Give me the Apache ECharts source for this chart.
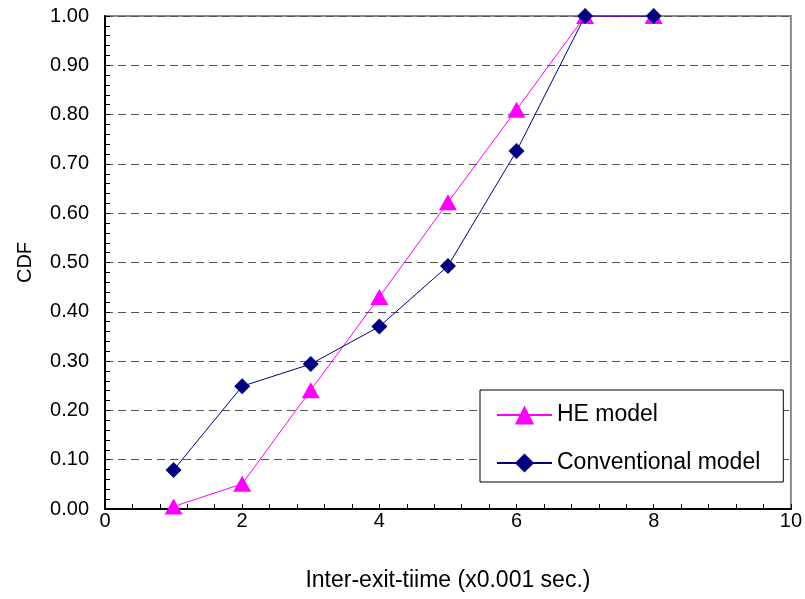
<!DOCTYPE html>
<html>
<head>
<meta charset="utf-8">
<script src="https://cdn.jsdelivr.net/npm/echarts@6/dist/echarts.min.js"></script>
<style>
html,body{margin:0;padding:0;background:#fff;}
#chart{width:805px;height:599px;}
</style>
</head>
<body>
<div id="chart"></div>
<script>
// Inter-exit time (x0.001 sec.) and cumulative distribution per model
const xValues = [1, 2, 3, 4, 5, 6, 7, 8];
const heModel = [0.005, 0.051, 0.241, 0.430, 0.622, 0.810, 1.000, 1.000];
const conventionalModel = [0.079, 0.249, 0.294, 0.370, 0.493, 0.726, 1.000, 1.000];
const seriesNames = ['HE model', 'Conventional model'];

const pair = (ys) => xValues.map((x, i) => [x, ys[i]]);
const font = 'Arial, "Liberation Sans", sans-serif';

const chart = echarts.init(document.getElementById('chart'), null, { renderer: 'canvas' });
chart.setOption({
  animation: false,
  backgroundColor: '#fff',
  grid: {
    left: 105, top: 16, right: 10, bottom: 90,
    show: true, borderColor: '#888', borderWidth: 2, backgroundColor: 'transparent'
  },
  legend: {
    data: seriesNames,
    orient: 'vertical',
    left: 480, top: 390,
    padding: [13, 23, 7, 16],
    itemGap: 24,
    itemWidth: 55, itemHeight: 24,
    backgroundColor: '#fff',
    borderColor: '#000', borderWidth: 1,
    textStyle: { fontFamily: font, fontSize: 23, lineHeight: 24, color: '#000' }
  },
  xAxis: {
    type: 'value', min: 0, max: 10, interval: 2,
    name: 'Inter-exit-tiime (x0.001 sec.)',
    nameLocation: 'middle', nameGap: 60,
    nameTextStyle: { fontFamily: font, fontSize: 23, color: '#000' },
    axisLine: { show: true, lineStyle: { color: '#000', width: 2 } },
    axisTick: { show: true, inside: true, length: 5, lineStyle: { color: '#000', width: 1 } },
    minorTick: { show: true, splitNumber: 5, length: 5, lineStyle: { color: '#000', width: 1 } },
    axisLabel: { fontFamily: font, fontSize: 20, color: '#000', margin: 2 },
    splitLine: { show: false }
  },
  yAxis: {
    type: 'value', min: 0, max: 1, interval: 0.1,
    name: 'CDF',
    nameLocation: 'middle', nameGap: 70, nameRotate: 90,
    nameTextStyle: { fontFamily: font, fontSize: 20, color: '#000' },
    axisLine: { show: true, lineStyle: { color: '#000', width: 2 } },
    axisTick: { show: true, inside: true, length: 5, lineStyle: { color: '#000', width: 1 } },
    minorTick: { show: true, splitNumber: 5, length: 5, lineStyle: { color: '#000', width: 1 } },
    axisLabel: { fontFamily: font, fontSize: 20, color: '#000', margin: 16,
                 formatter: (v) => v.toFixed(2) },
    splitLine: { show: true, lineStyle: { color: '#555', width: 1, type: [8, 5] } }
  },
  series: [
    {
      name: seriesNames[0], type: 'line', data: pair(heModel),
      symbol: 'triangle', symbolSize: [18, 16],
      lineStyle: { color: '#ff00ff', width: 1 },
      itemStyle: { color: '#ff00ff' },
      z: 2
    },
    {
      name: seriesNames[1], type: 'line', data: pair(conventionalModel),
      symbol: 'diamond', symbolSize: [16, 16],
      lineStyle: { color: '#000080', width: 1 },
      itemStyle: { color: '#000080' },
      z: 3
    }
  ]
});
</script>
</body>
</html>
